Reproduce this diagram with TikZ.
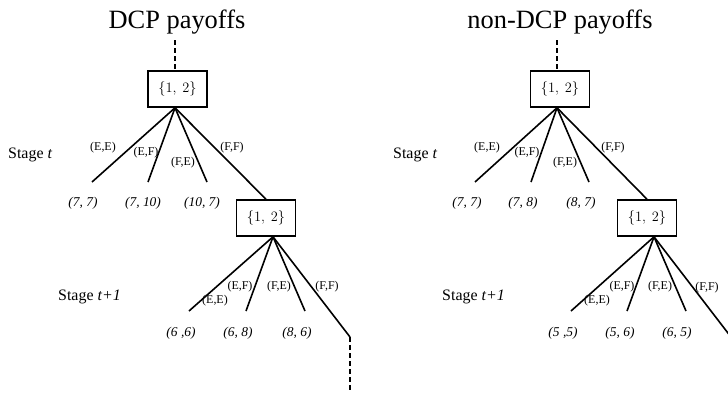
\documentclass[tikz,border=0pt]{standalone}
\usepackage{fontspec}
\setmainfont{Liberation Serif}
\tikzset{
  setbox/.style={draw, line width=1.6bp, minimum width=59bp, minimum height=36bp, inner sep=0pt,
    font=\fontsize{13.5}{16}\selectfont},
  branch/.style={line width=1.6bp},
  lead/.style={line width=1.6bp, dash pattern=on 5bp off 3bp},
  heading/.style={font=\fontsize{26.5}{31}\selectfont, inner sep=0pt},
  move/.style={font=\fontsize{12}{14}\selectfont, inner sep=0pt},
  pay/.style={font=\fontsize{13.5}{16}\selectfont\itshape, inner sep=0pt},
  stage/.style={font=\fontsize{16}{19}\selectfont, inner sep=0pt, anchor=west},
}
\begin{document}
\begin{tikzpicture}[x=1bp, y=-1bp]
\useasboundingbox (0,0) rectangle (728,393);
\clip (0,0) rectangle (728,393);

% ---------- DCP payoffs ----------
\node[heading] (Ltitle) at (177,22) {DCP payoffs};
\node[setbox] (L1) at (177.5,89) {$\{1,\ 2\}$};
\node[setbox] (L2) at (266,218) {$\{1,\ 2\}$};
\coordinate (Ltop) at (175,40);
\coordinate (L1o) at ([xshift=-2.5bp]L1.south);
\coordinate (L2o) at ([xshift=7bp]L2.south);
\coordinate (L1a) at (92,182);
\coordinate (L1b) at (148,182);
\coordinate (L1c) at (207,182);
\coordinate (L2a) at (189,311);
\coordinate (L2b) at (246,311);
\coordinate (L2c) at (305,311);
\coordinate (L2d) at (350,337);
\coordinate (Lend) at (350,393);

\draw[lead] (Ltop) -- (Ltop |- L1.north);
\draw[branch] (L1o) -- (L1a);
\draw[branch] (L1o) -- (L1b);
\draw[branch] (L1o) -- (L1c);
\draw[branch] (L1o) -- (L2.north);
\draw[branch] (L2o) -- (L2a);
\draw[branch] (L2o) -- (L2b);
\draw[branch] (L2o) -- (L2c);
\draw[branch] (L2o) -- (L2d);
\draw[lead] (L2d) -- (Lend);

\node[move] (Lm1) at (103,148) {(E,E)};
\node[move] (Lm2) at (146,153) {(E,F)};
\node[move] (Lm3) at (183,163) {(F,E)};
\node[move] (Lm4) at (232,148) {(F,F)};
\node[move] (Lm5) at (215,301) {(E,E)};
\node[move] (Lm6) at (240,287) {(E,F)};
\node[move] (Lm7) at (279,287) {(F,E)};
\node[move] (Lm8) at (327,287) {(F,F)};

\node[pay] (Lp1) at (83,203) {(7, 7)};
\node[pay] (Lp2) at (143,203) {(7, 10)};
\node[pay] (Lp3) at (202,203) {(10, 7)};
\node[pay] (Lp4) at (181,333) {(6 ,6)};
\node[pay] (Lp5) at (238,333) {(6, 8)};
\node[pay] (Lp6) at (297,333) {(8, 6)};

\node[stage] (Ls1) at (8,155) {Stage \textit{t}};
\node[stage] (Ls2) at (58,297) {Stage \textit{t+1}};

% ---------- non-DCP payoffs ----------
\node[heading] (Rtitle) at (560,22) {non-DCP payoffs};
\node[setbox] (R1) at (560,89) {$\{1,\ 2\}$};
\node[setbox] (R2) at (647,218) {$\{1,\ 2\}$};
\coordinate (Rtop) at (557,40);
\coordinate (R1o) at ([xshift=-3bp]R1.south);
\coordinate (R2o) at ([xshift=7bp]R2.south);
\coordinate (R1a) at (475,182);
\coordinate (R1b) at (531,182);
\coordinate (R1c) at (589,182);
\coordinate (R2a) at (571,311);
\coordinate (R2b) at (627,311);
\coordinate (R2c) at (686,311);
\coordinate (R2d) at (731,337);

\draw[lead] (Rtop) -- (Rtop |- R1.north);
\draw[branch] (R1o) -- (R1a);
\draw[branch] (R1o) -- (R1b);
\draw[branch] (R1o) -- (R1c);
\draw[branch] (R1o) -- (R2.north);
\draw[branch] (R2o) -- (R2a);
\draw[branch] (R2o) -- (R2b);
\draw[branch] (R2o) -- (R2c);
\draw[branch] (R2o) -- (R2d);

\node[move] (Rm1) at (487,148) {(E,E)};
\node[move] (Rm2) at (527,153) {(E,F)};
\node[move] (Rm3) at (565,163) {(F,E)};
\node[move] (Rm4) at (613,148) {(F,F)};
\node[move] (Rm5) at (597,301) {(E,E)};
\node[move] (Rm6) at (622,287) {(E,F)};
\node[move] (Rm7) at (660,287) {(F,E)};
\node[move] (Rm8) at (707,288) {(F,F)};

\node[pay] (Rp1) at (467,203) {(7, 7)};
\node[pay] (Rp2) at (523,203) {(7, 8)};
\node[pay] (Rp3) at (581,203) {(8, 7)};
\node[pay] (Rp4) at (563,333) {(5 ,5)};
\node[pay] (Rp5) at (620,333) {(5, 6)};
\node[pay] (Rp6) at (677,333) {(6, 5)};

\node[stage] (Rs1) at (393,155) {Stage \textit{t}};
\node[stage] (Rs2) at (442,297) {Stage \textit{t+1}};
\end{tikzpicture}
\end{document}
